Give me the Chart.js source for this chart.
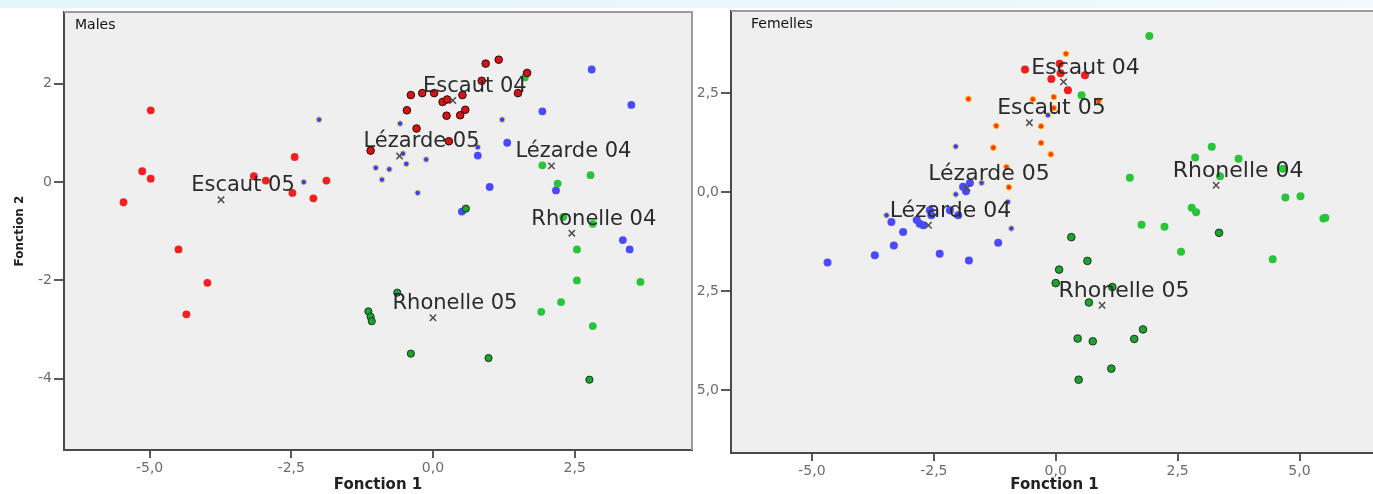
<!DOCTYPE html>
<html>
<head>
<meta charset="utf-8">
<script src="https://cdn.jsdelivr.net/npm/chart.js@4.4.1/dist/chart.umd.min.js"></script>
<style>
  html, body { margin: 0; padding: 0; background: #fff; overflow: hidden; }
  body { width: 1373px; height: 494px; position: relative; }
  #topband { position: absolute; left: 0; top: 0; width: 1373px; height: 8px;
             background: linear-gradient(to right, #e2f5f8, #e8f7fa 60%, #f2fafb); }
  #leftWrap { position: absolute; left: 0; top: 0; width: 698px; height: 494px; }
  #rightWrap { position: absolute; left: 697px; top: 0; width: 676px; height: 494px; overflow: hidden; }
  #c2 { position: absolute; left: -17px; top: 0; }
</style>
</head>
<body>
<div id="topband"></div>
<div id="leftWrap"><canvas id="c1" width="698" height="494"></canvas></div>
<div id="rightWrap"><canvas id="c2" width="720" height="494"></canvas></div>
<script>
// group names, same order for both panels
const groups = ['Escaut 04', 'Escaut 05', 'Lézarde 04', 'Lézarde 05', 'Rhonelle 04', 'Rhonelle 05'];

// Males  [fonction 1, fonction 2]
const mEscaut04 = [[-1.10,0.64],[-0.46,1.46],[-0.39,1.77],[-0.19,1.81],[0.02,1.81],[0.17,1.63],[0.25,1.68],[0.52,1.77],
  [0.86,2.06],[0.93,2.41],[1.16,2.49],[1.50,1.81],[1.66,2.22],[0.24,1.35],[0.48,1.36],[0.57,1.47],[-0.29,1.09],[0.28,0.83]];
const mEscaut05 = [[-4.98,1.46],[-5.13,0.22],[-4.98,0.07],[-5.46,-0.41],[-4.49,-1.37],[-3.98,-2.05],[-4.35,-2.69],
  [-3.16,0.12],[-2.95,0.03],[-2.44,0.51],[-2.48,-0.22],[-2.11,-0.33],[-1.88,0.03]];
const mLezarde04 = [[2.80,2.29],[3.50,1.57],[1.93,1.44],[1.31,0.80],[0.79,0.54],[1.00,-0.10],[2.17,-0.17],[0.51,-0.60],
  [3.35,-1.18],[3.47,-1.37]];
const mLezarde05 = [[-2.01,1.27],[-2.28,0.00],[-0.58,1.19],[1.22,1.27],[-0.27,-0.22],[-0.12,0.46],[-1.01,0.29],
  [-0.77,0.26],[-0.90,0.05],[-0.47,0.37],[-0.53,0.58],[0.79,0.71]];
const mRhonelle04 = [[1.62,2.13],[1.93,0.34],[2.78,0.14],[2.20,-0.03],[2.30,-0.71],[2.82,-0.85],[2.54,-1.37],
  [2.54,-2.00],[3.66,-2.03],[2.26,-2.44],[1.91,-2.64],[2.82,-2.93]];
const mRhonelle05 = [[0.58,-0.54],[-0.63,-2.25],[-1.14,-2.63],[-1.10,-2.74],[-1.08,-2.83],[-0.39,-3.49],[0.98,-3.58],[2.76,-4.02]];
const mCentroids = [[0.35,1.66],[-3.74,-0.36],[2.09,0.33],[-0.59,0.53],[2.45,-1.04],[0.00,-2.76]];

// Femelles
const fEscaut04 = [[-0.63,3.09],[0.08,3.24],[-0.09,2.85],[0.10,3.00],[0.60,2.95],[0.25,2.57]];
const fEscaut05 = [[0.21,3.49],[-1.79,2.35],[-0.47,2.34],[-0.04,2.40],[0.88,2.30],[-1.22,1.67],[-0.30,1.66],
  [-1.28,1.12],[-0.30,1.24],[-0.10,0.95],[-1.01,0.63],[-0.96,0.12],[-0.04,2.12]];
const fLezarde04 = [[-4.68,-1.78],[-3.71,-1.60],[-3.32,-1.35],[-3.13,-1.01],[-3.37,-0.76],[-2.85,-0.71],[-2.79,-0.80],
  [-2.72,-0.84],[-2.58,-0.46],[-2.55,-0.59],[-2.17,-0.46],[-2.00,-0.59],[-2.38,-1.56],[-1.78,-1.73],[-1.18,-1.28],
  [-1.84,0.02],[-1.90,0.13],[-1.76,0.23]];
const fLezarde05 = [[-2.05,1.15],[-0.16,1.94],[-2.05,-0.06],[-1.52,0.23],[-0.98,-0.25],[-0.91,-0.92],[-3.47,-0.59]];
const fRhonelle04 = [[1.92,3.94],[0.53,2.44],[3.20,1.14],[2.86,0.87],[3.75,0.84],[1.52,0.36],[3.37,0.40],[4.66,0.59],
  [4.71,-0.14],[5.02,-0.11],[5.49,-0.67],[5.53,-0.65],[2.79,-0.40],[2.88,-0.51],[1.76,-0.83],[2.23,-0.88],[2.57,-1.51],[4.45,-1.70]];
const fRhonelle05 = [[0.32,-1.14],[0.65,-1.74],[0.07,-1.96],[0.00,-2.30],[1.16,-2.40],[0.68,-2.79],[3.35,-1.03],
  [1.79,-3.47],[0.45,-3.70],[0.76,-3.77],[1.61,-3.71],[1.14,-4.46],[0.47,-4.74]];
const fCentroids = [[0.16,2.78],[-0.54,1.75],[-2.61,-0.84],[-1.82,0.10],[3.29,0.17],[0.95,-2.86]];

// ticks
const mXTicks = [-5, -2.5, 0, 2.5];
const mYTicks = [-4, -2, 0, 2];
const fXTicks = [-5, -2.5, 0, 2.5, 5];
const fYTicks = [-5, -2.5, 0, 2.5];

Chart.defaults.font.family = '"DejaVu Sans", sans-serif';

const fmt1 = v => v.toFixed(1).replace('.', ',');
const pts = arr => arr.map(p => ({x: p[0], y: p[1]}));

function ds(arr, bg, border, bw, r) {
  return { data: pts(arr), backgroundColor: bg, borderColor: border, borderWidth: bw,
           pointRadius: r, pointHoverRadius: r, pointStyle: 'circle' };
}
function centroidDs(arr) {
  return { data: pts(arr), pointStyle: 'crossRot', pointRadius: 4.5, borderColor: '#4d4d4d',
           borderWidth: 1.5, backgroundColor: 'rgba(0,0,0,0)' };
}

const panelDecor = {
  id: 'panelDecor',
  beforeDraw(chart) {
    const {ctx, chartArea: a} = chart;
    ctx.save();
    ctx.fillStyle = '#efefef';
    ctx.fillRect(a.left, a.top, a.right - a.left, a.bottom - a.top);
    ctx.restore();
  },
  afterDraw(chart, args, opts) {
    const {ctx, chartArea: a, scales: {x, y}} = chart;
    ctx.save();
    ctx.strokeStyle = '#9c9c9c';
    ctx.lineWidth = 2;
    ctx.beginPath();
    ctx.moveTo(a.left, a.top);
    ctx.lineTo(a.right, a.top);
    ctx.lineTo(a.right, a.bottom);
    ctx.stroke();

    ctx.fillStyle = '#111';
    ctx.font = '14px "DejaVu Sans"';
    ctx.textAlign = 'left';
    ctx.textBaseline = 'middle';
    ctx.fillText(opts.title, a.left + opts.titleDx, a.top + 13);

    ctx.fillStyle = '#2b2b2b';
    ctx.font = opts.labelSize + 'px "DejaVu Sans"';
    ctx.textAlign = 'center';
    opts.centroids.forEach((c, i) => {
      ctx.fillText(groups[i], x.getPixelForValue(c[0]) + 22, y.getPixelForValue(c[1]) - 14);
    });
    ctx.restore();
  }
};

function axis(min, max, ticks, fmt, size, tickLen, title, titleOpts) {
  return {
    type: 'linear', min: min, max: max,
    afterBuildTicks: s => { s.ticks = ticks.map(v => ({value: v})); },
    afterFit: s => { if (s.isHorizontal()) s.height = size; else s.width = size; },
    grid: { drawOnChartArea: false, drawTicks: true, tickLength: tickLen, color: '#5a5a5a', lineWidth: 2 },
    border: { display: true, color: '#4a4a4a', width: 2 },
    ticks: { color: '#6c6c6c', font: {size: 14}, padding: 2, callback: v => fmt(v) },
    title: title ? Object.assign({ display: true, text: title, color: '#222' }, titleOpts) : { display: false }
  };
}

new Chart(document.getElementById('c1'), {
  type: 'scatter',
  data: {
    datasets: [
      centroidDs(mCentroids),
      ds(mEscaut04, '#d61414', '#2a0808', 1, 3.8),
      ds(mRhonelle05, '#1ea332', '#173617', 1, 3.6),
      ds(mRhonelle04, '#28c43a', '#28c43a', 0, 3.9),
      ds(mLezarde05, '#3d3dff', '#e4da6a', 1, 2.8),
      ds(mLezarde04, '#4a4aff', '#4a4aff', 0, 3.9),
      ds(mEscaut05, '#f42020', '#f42020', 0, 3.9)
    ]
  },
  options: {
    responsive: false, animation: false,
    layout: { padding: { top: 12, right: 6, left: 0, bottom: 0 } },
    plugins: {
      legend: { display: false }, tooltip: { enabled: false },
      panelDecor: { title: 'Males', titleDx: 11, labelSize: 21, centroids: mCentroids }
    },
    scales: {
      x: axis(-6.51, 4.57, mXTicks, fmt1, 44, 8, 'Fonction 1',
              { font: {size: 15, weight: 'bold'}, padding: {top: 0, bottom: 0} }),
      y: axis(-5.45, 3.46, mYTicks, v => String(v), 64, 10, 'Fonction 2',
              { font: {size: 12, weight: 'bold'}, padding: {top: 13, bottom: 0} })
    }
  },
  plugins: [panelDecor]
});

new Chart(document.getElementById('c2'), {
  type: 'scatter',
  data: {
    datasets: [
      centroidDs(fCentroids),
      ds(fEscaut04, '#f41c1c', '#f41c1c', 0, 4),
      ds(fEscaut05, '#ff3a00', '#ffbf20', 1, 2.8),
      ds(fRhonelle05, '#1ea332', '#173617', 1, 3.8),
      ds(fRhonelle04, '#28c43a', '#28c43a', 0, 4),
      ds(fLezarde05, '#3d3dff', '#e4da6a', 1, 2.8),
      ds(fLezarde04, '#4a4aff', '#4a4aff', 0, 4)
    ]
  },
  options: {
    responsive: false, animation: false,
    layout: { padding: { top: 11, right: 22, left: 0, bottom: 0 } },
    plugins: {
      legend: { display: false }, tooltip: { enabled: false },
      panelDecor: { title: 'Femelles', titleDx: 20, labelSize: 22, centroids: fCentroids }
    },
    scales: {
      x: axis(-6.66, 6.61, fXTicks, fmt1, 41, 8, 'Fonction 1',
              { font: {size: 15, weight: 'bold'}, padding: {top: 0, bottom: 0} }),
      y: axis(-6.59, 4.57, fYTicks, fmt1, 51, 10, null, null)
    }
  },
  plugins: [panelDecor]
});
</script>
</body>
</html>
